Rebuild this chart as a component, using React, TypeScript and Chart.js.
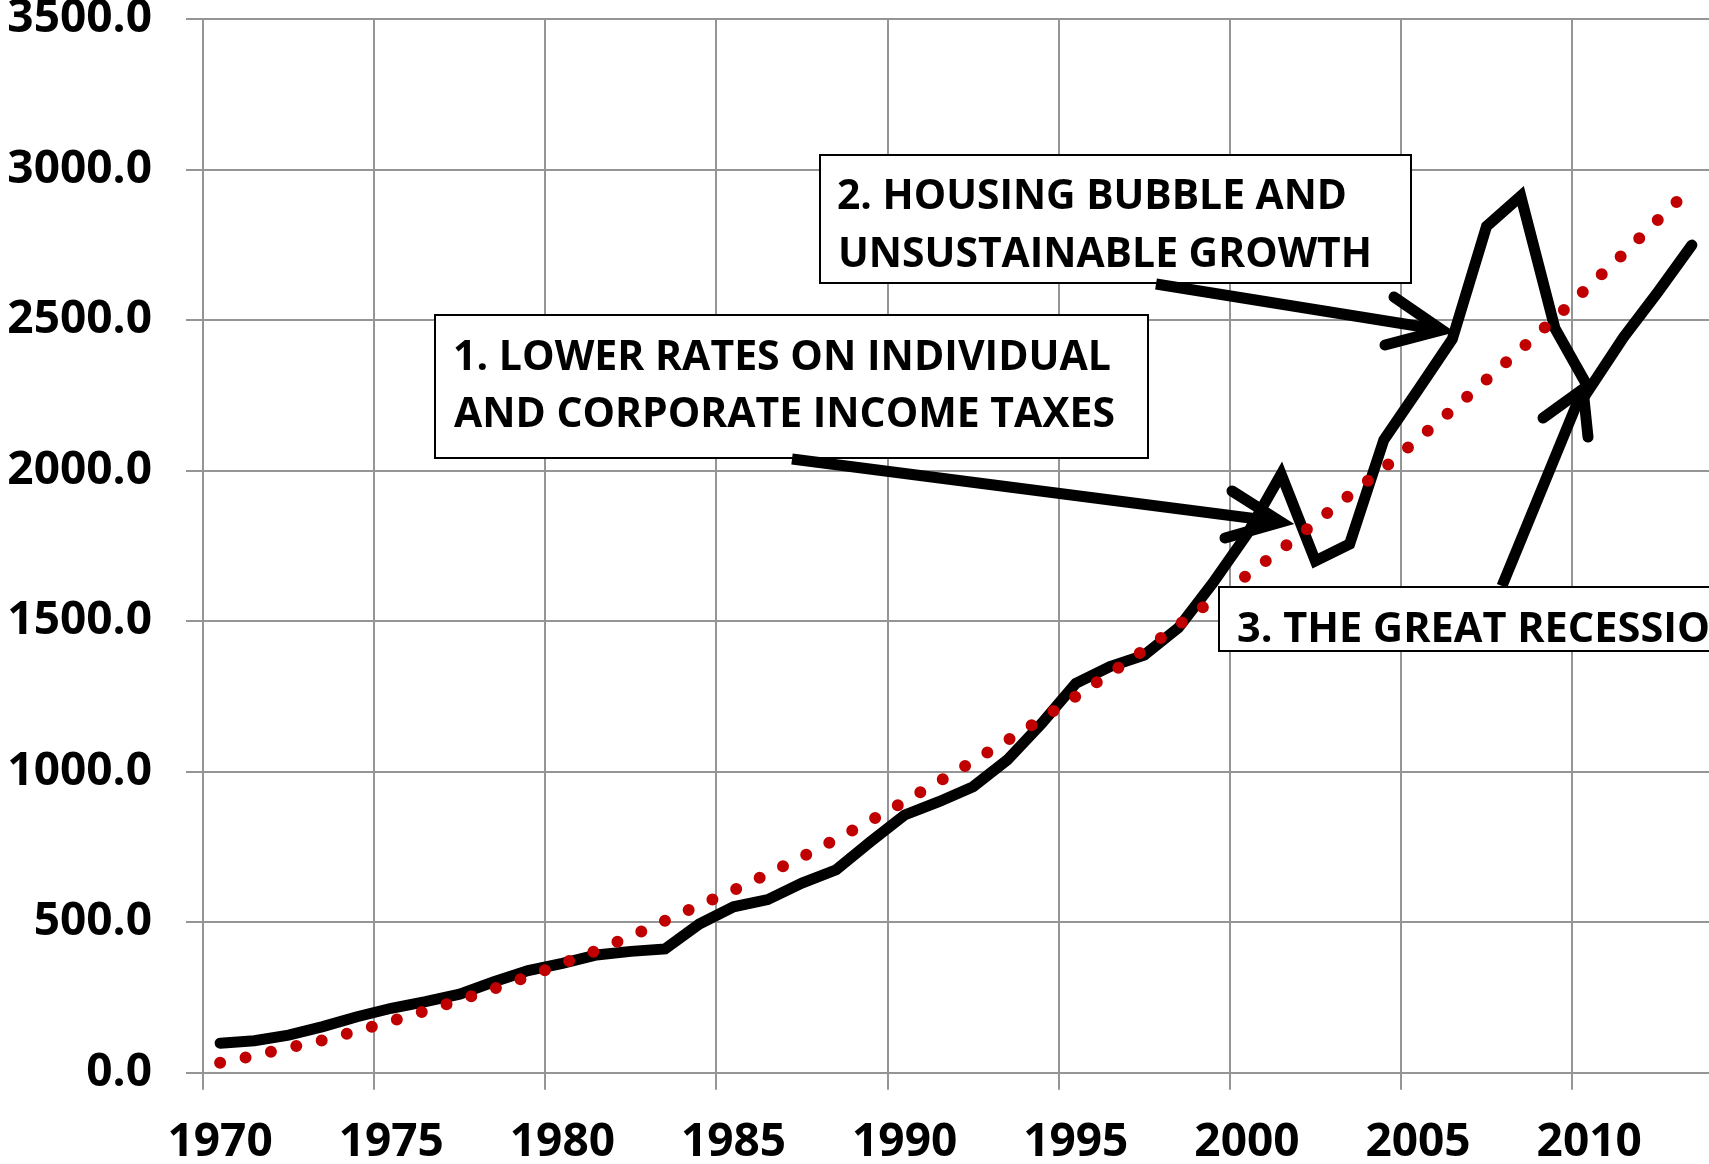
import React, { useEffect, useRef } from "react";
import { Chart, registerables } from "chart.js";

Chart.register(...registerables);

const W = 1709;
const H = 1164;

const years = [
  1970, 1971, 1972, 1973, 1974, 1975, 1976, 1977, 1978, 1979,
  1980, 1981, 1982, 1983, 1984, 1985, 1986, 1987, 1988, 1989,
  1990, 1991, 1992, 1993, 1994, 1995, 1996, 1997, 1998, 1999,
  2000, 2001, 2002, 2003, 2004, 2005, 2006, 2007, 2008, 2009,
  2010, 2011, 2012, 2013,
];

const revenue = [
  98, 106, 125, 153, 186, 214, 236, 261, 302, 339,
  363, 391, 403, 411, 494, 551, 575, 630, 674, 767,
  856, 900, 950, 1039, 1160, 1293, 1349, 1387, 1478, 1626,
  1788, 1988, 1700, 1756, 2102, 2268, 2437, 2811, 2912, 2472,
  2270, 2442, 2592, 2749,
];

const trend = [
  33, 57, 83, 108, 139, 171, 205, 241, 279, 319,
  362, 406, 453, 505, 556, 606, 660, 717, 776, 837,
  901, 967, 1035, 1104, 1175, 1250, 1326, 1404, 1487, 1570,
  1652, 1738, 1827, 1919, 2008, 2105, 2202, 2302, 2403, 2506,
  2613, 2720, 2832, 2941,
];

const yTicks = [0, 500, 1000, 1500, 2000, 2500, 3000, 3500];

// fit: the part of the text whose width is matched to w
const notes = [
  {
    box: [435, 315, 1148, 458],
    lines: [
      { text: "1. LOWER RATES ON INDIVIDUAL", fit: "1. LOWER RATES ON INDIVIDUAL", x: 453, y: 370, w: 658 },
      { text: "AND CORPORATE INCOME TAXES", fit: "AND CORPORATE INCOME TAXES", x: 454, y: 427, w: 661 },
    ],
    arrow: { tail: [792, 459], tip: [1281, 522], a1: [1232, 491], a2: [1225, 538] },
  },
  {
    box: [820, 155, 1411, 283],
    lines: [
      { text: "2. HOUSING BUBBLE AND", fit: "2. HOUSING BUBBLE AND", x: 837, y: 209, w: 510 },
      { text: "UNSUSTAINABLE GROWTH", fit: "UNSUSTAINABLE GROWTH", x: 838, y: 267, w: 534 },
    ],
    arrow: { tail: [1156, 284], tip: [1442, 330], a1: [1394, 297], a2: [1385, 345] },
  },
  {
    box: [1219, 587, 1760, 651],
    lines: [{ text: "3. THE GREAT RECESSION", fit: "3. THE GREAT RECESSIO", x: 1237, y: 642, w: 473 }],
    arrow: { tail: [1502, 586], tip: [1583, 389], a1: [1543, 418], a2: [1588, 437] },
  },
];

const GRID = "#959595";
const NOTE_FONT = 'bold 42px "Open Sans"';

const annotationPlugin = {
  id: "notes",
  afterDatasetsDraw(chart: any) {
    const ctx: CanvasRenderingContext2D = chart.ctx;
    ctx.save();
    ctx.font = NOTE_FONT;
    for (const n of notes) {
      const [x0, y0, x1, y1] = n.box;
      ctx.fillStyle = "#ffffff";
      ctx.fillRect(x0, y0, x1 - x0, y1 - y0);
      ctx.strokeStyle = "#000000";
      ctx.lineWidth = 2;
      ctx.strokeRect(x0, y0, x1 - x0, y1 - y0);
      ctx.fillStyle = "#000000";
      ctx.textBaseline = "alphabetic";
      ctx.textAlign = "left";
      for (const l of n.lines) {
        const mw = ctx.measureText(l.fit).width;
        const s = l.w / mw;
        ctx.save();
        ctx.translate(l.x, l.y);
        ctx.scale(s, 1);
        ctx.fillText(l.text, 0, 0);
        ctx.restore();
      }
      const a = n.arrow;
      ctx.strokeStyle = "#000000";
      ctx.lineWidth = 11;
      ctx.lineCap = "butt";
      ctx.beginPath();
      ctx.moveTo(a.tail[0], a.tail[1]);
      ctx.lineTo(a.tip[0], a.tip[1]);
      ctx.stroke();
      ctx.lineCap = "round";
      ctx.lineJoin = "miter";
      ctx.beginPath();
      ctx.moveTo(a.a1[0], a.a1[1]);
      ctx.lineTo(a.tip[0], a.tip[1]);
      ctx.lineTo(a.a2[0], a.a2[1]);
      ctx.stroke();
    }
    ctx.restore();
  },
};

export default function App() {
  const ref = useRef<HTMLCanvasElement>(null);
  useEffect(() => {
    const canvas = ref.current!;
    const chart = new Chart(canvas, {
      type: "line",
      data: {
        labels: years.map(String),
        datasets: [
          {
            label: "Trend",
            data: trend,
            borderColor: "#C00000",
            borderWidth: 12,
            borderDash: [0, 26],
            borderCapStyle: "round",
            pointRadius: 0,
            fill: false,
            tension: 0,
          },
          {
            label: "Revenue",
            data: revenue,
            borderColor: "#000000",
            borderWidth: 11,
            borderCapStyle: "round",
            borderJoinStyle: "miter",
            pointRadius: 0,
            fill: false,
            tension: 0,
          },
        ],
      },
      options: {
        responsive: false,
        devicePixelRatio: 1,
        animation: false,
        events: [],
        layout: { padding: { top: 19, left: 0, right: 0, bottom: 0 } },
        plugins: {
          legend: { display: false },
          tooltip: { enabled: false },
          title: { display: false },
        },
        scales: {
          x: {
            type: "category",
            offset: true,
            grid: {
              offset: true,
              color: (c: any) => (c.index % 5 === 0 ? GRID : "rgba(0,0,0,0)"),
              lineWidth: 2,
              tickLength: 17,
              drawTicks: true,
            },
            border: { color: GRID, width: 2 },
            ticks: {
              autoSkip: false,
              maxRotation: 0,
              minRotation: 0,
              padding: 26,
              color: "#000000",
              font: { family: "Open Sans", weight: "bold", size: 46 },
              callback: function (this: any, value: any) {
                const l = this.getLabelForValue(value);
                return Number(l) % 5 === 0 ? l : "";
              },
            },
            afterFit: (s: any) => {
              s.height = H - 1072.7;
              s.paddingLeft = 0;
              s.paddingRight = 0;
            },
          },
          y: {
            min: 0,
            max: 3500,
            afterBuildTicks: (s: any) => {
              s.ticks = yTicks.map((v) => ({ value: v }));
            },
            grid: { color: GRID, lineWidth: 2, tickLength: 17, drawTicks: true },
            border: { color: GRID, width: 2 },
            ticks: {
              padding: 34,
              color: "#000000",
              font: { family: "Open Sans", weight: "bold", size: 46 },
              callback: (v: any) => Number(v).toFixed(1),
            },
            afterFit: (s: any) => {
              s.width = 203;
              s.paddingTop = 0;
              s.paddingBottom = 0;
            },
          },
        },
      },
      plugins: [annotationPlugin],
    } as any);
    return () => chart.destroy();
  }, []);
  return (
    <div
      style={{
        position: "fixed",
        left: 0,
        top: 0,
        width: W,
        height: H,
        overflow: "hidden",
        background: "#ffffff",
      }}
    >
      <canvas ref={ref} width={W} height={H} style={{ display: "block", width: W, height: H }} />
    </div>
  );
}
